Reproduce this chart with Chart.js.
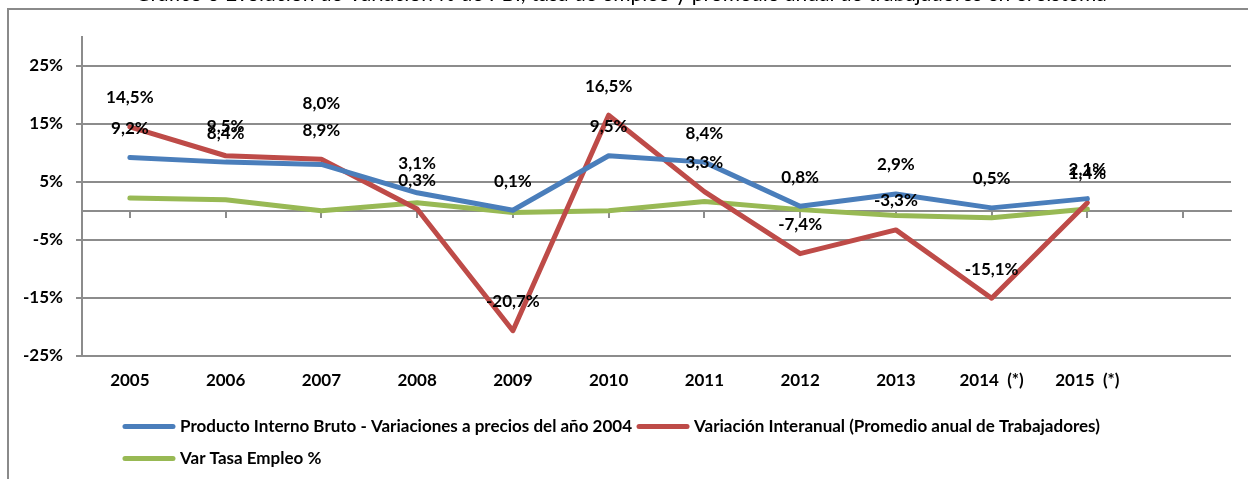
<!DOCTYPE html>
<html>
<head>
<meta charset="utf-8">
<script src="https://cdn.jsdelivr.net/npm/chart.js@4.4.1/dist/chart.umd.min.js"></script>
<style>
    html, body { margin: 0; padding: 0; background: #fff; }
    #wrap { width: 1248px; height: 479px; position: relative; }
</style>
</head>
<body>
<div id="wrap"><canvas id="chart" width="1248" height="479"></canvas></div>
<script>
// Chart data
const years = ['2005', '2006', '2007', '2008', '2009', '2010', '2011', '2012', '2013', '2014  (*)', '2015  (*)', ''];
const pbi = [9.2, 8.4, 8.0, 3.1, 0.1, 9.5, 8.4, 0.8, 2.9, 0.5, 2.1];
const trabajadores = [14.5, 9.5, 8.9, 0.3, -20.7, 16.5, 3.3, -7.4, -3.3, -15.1, 1.4];
const tasaEmpleo = [2.2, 1.9, 0.0, 1.4, -0.3, 0.0, 1.6, 0.2, -0.8, -1.2, 0.3];
const yTicks = [-25, -15, -5, 5, 15, 25];

const titleText = 'Gráfico 3 Evolución de Variación % de PBI, tasa de empleo y promedio anual de trabajadores en el sistema';
const FONT = 'Lato, Carlito, Calibri, sans-serif';
const GRID = '#8c8c8c';

const fmtPct = v => v.toFixed(1).replace('.', ',') + '%';

// frame + cut-off title
const framePlugin = {
    id: 'frame',
    beforeDraw(chart) {
        const ctx = chart.ctx;
        ctx.save();
        ctx.fillStyle = '#fff';
        ctx.fillRect(0, 0, chart.width, chart.height);
        ctx.strokeStyle = '#8a8a8a';
        ctx.lineWidth = 2;
        ctx.beginPath();
        ctx.moveTo(8, chart.height + 5);
        ctx.lineTo(8, 9);
        ctx.lineTo(chart.width + 5, 9);
        ctx.stroke();
        ctx.fillStyle = '#000';
        ctx.font = '21px ' + FONT;
        ctx.textAlign = 'center';
        ctx.textBaseline = 'alphabetic';
        ctx.fillText(titleText, 621, 1);
        ctx.restore();
    }
};

// value labels above the points
const valueLabels = {
    id: 'valueLabels',
    afterDatasetsDraw(chart, args, opts) {
        const ctx = chart.ctx;
        ctx.save();
        ctx.font = 'bold 17px ' + FONT;
        ctx.fillStyle = '#000';
        ctx.textAlign = 'center';
        ctx.textBaseline = 'middle';
        chart.data.datasets.forEach((ds, di) => {
            if (!ds.showValues) return;
            chart.getDatasetMeta(di).data.forEach((pt, i) => {
                const nudge = (opts.nudge && opts.nudge[di + '-' + i]) || 0;
                ctx.fillText(fmtPct(ds.data[i]), pt.x, pt.y - 29 + nudge);
            });
        });
        ctx.restore();
    }
};

// excel style legend, rows flowing from the left
const flowLegend = {
    id: 'flowLegend',
    afterDraw(chart) {
        const ctx = chart.ctx;
        const area = chart.chartArea;
        ctx.save();
        ctx.font = 'bold 17px ' + FONT;
        ctx.textBaseline = 'middle';
        ctx.textAlign = 'left';
        let x = area.left + 41;
        let y = area.bottom + 71;
        chart.data.datasets.forEach(ds => {
            const w = 52 + 6 + ctx.measureText(ds.label).width;
            if (x + w > area.right && x > area.left + 41) {
                x = area.left + 41;
                y += 32;
            }
            ctx.strokeStyle = ds.borderColor;
            ctx.lineWidth = 5;
            ctx.lineCap = 'round';
            ctx.beginPath();
            ctx.moveTo(x + 2, y);
            ctx.lineTo(x + 50, y);
            ctx.stroke();
            ctx.fillStyle = '#000';
            ctx.fillText(ds.label, x + 57, y);
            x += w + 4;
        });
        ctx.restore();
    }
};

const lineStyle = {
    borderWidth: 5,
    pointRadius: 0,
    pointHoverRadius: 0,
    tension: 0,
    borderJoinStyle: 'round',
    borderCapStyle: 'round',
    fill: false
};

new Chart(document.getElementById('chart'), {
    type: 'line',
    data: {
        labels: years,
        datasets: [
            { label: 'Producto Interno Bruto - Variaciones a precios del año 2004', data: pbi,
              borderColor: '#4a7ebb', showValues: true, ...lineStyle },
            { label: 'Variación Interanual (Promedio anual de Trabajadores)', data: trabajadores,
              borderColor: '#be4b48', showValues: true, ...lineStyle },
            { label: 'Var Tasa Empleo %', data: tasaEmpleo,
              borderColor: '#98b954', showValues: false, ...lineStyle }
        ]
    },
    options: {
        responsive: false,
        animation: false,
        layout: { padding: { top: 37, right: 17, left: 10, bottom: 73 } },
        plugins: {
            legend: { display: false },
            tooltip: { enabled: false },
            valueLabels: { nudge: { '0-2': -32 } }
        },
        scales: {
            x: {
                type: 'category',
                position: { y: 0 },
                offset: true,
                grid: { display: true, drawOnChartArea: false, drawTicks: true, tickLength: 6, color: GRID, lineWidth: 2 },
                border: { display: true, color: GRID, width: 2 },
                ticks: { display: false }
            },
            xLabels: {
                type: 'category',
                position: 'bottom',
                offset: true,
                grid: { display: false, drawTicks: false },
                border: { display: false },
                ticks: {
                    padding: 15,
                    maxRotation: 0,
                    autoSkip: false,
                    color: '#000',
                    font: { family: FONT, size: 17, weight: 'bold' }
                }
            },
            y: {
                min: -25,
                max: 30,
                afterBuildTicks: axis => { axis.ticks = yTicks.map(v => ({ value: v })); },
                grid: { color: GRID, lineWidth: 2, tickLength: 6 },
                border: { display: true, color: GRID, width: 2 },
                ticks: {
                    padding: 13,
                    color: '#000',
                    font: { family: FONT, size: 17, weight: 'bold' },
                    callback: v => v + '%'
                }
            }
        }
    },
    plugins: [framePlugin, valueLabels, flowLegend]
});
</script>
</body>
</html>
